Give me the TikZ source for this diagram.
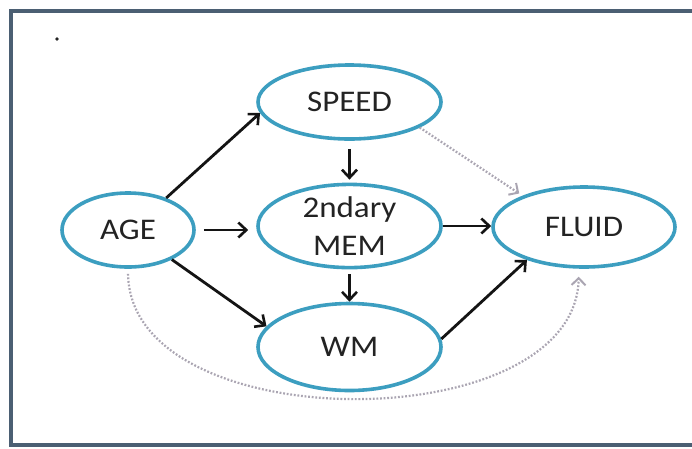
\documentclass[tikz,border=0pt]{standalone}
\usepackage{fontspec}
\setmainfont{Carlito}[FakeStretch=1.1]
\usetikzlibrary{shapes.geometric,arrows.meta}
\definecolor{ring}{RGB}{60,158,192}
\definecolor{ink}{RGB}{20,20,20}
\definecolor{txt}{RGB}{35,35,35}
\definecolor{dotc}{RGB}{170,165,178}
\definecolor{framec}{RGB}{75,95,115}
\begin{document}
\begin{tikzpicture}[x=1pt,y=-1pt,
  var/.style={ellipse, draw=ring, line width=3.6pt, fill=white, text=txt,
    font=\fontsize{30}{38}\selectfont, align=center, inner sep=0pt},
  arr/.style={-{Straight Barb[length=8pt,width=15pt,line width=2.6pt]}, line width=2.8pt, draw=ink},
  dotarr/.style={-{Straight Barb[length=7pt,width=14pt,line width=2pt]}, line width=2.2pt, draw=dotc,
    dash pattern=on 1.8pt off 1.8pt}]
\useasboundingbox (0,0) rectangle (692,448);
\fill[white] (0,0) rectangle (692,448);
\draw[framec, line width=3.2pt] (11,11) rectangle (700,445);
\node[circle, fill=txt, inner sep=1.3pt] (dot) at (57,39) {};
\node[var, minimum width=132pt, minimum height=74pt] (age) at (128,230) {AGE};
\node[var, minimum width=183pt, minimum height=74pt] (speed) at (349.5,102) {SPEED};
\node[var, minimum width=183pt, minimum height=76pt] (mem) at (349.5,226) {2ndary\\MEM};
\node[var, minimum width=182pt, minimum height=80pt] (fluid) at (584,227) {FLUID};
\node[var, minimum width=183pt, minimum height=87pt] (wm) at (349.5,347) {WM};
\draw[arr] (age.40) -- (speed.187);
\draw[arr, shorten <=8pt, shorten >=3pt] (speed.south) -- (mem.north);
\draw[arr, shorten <=8pt, shorten >=8pt] (age.east) -- (age.east -| mem.west);
\draw[arr] (mem.east) -- (mem.east -| fluid.west);
\draw[arr, shorten <=5pt] (mem.south) -- (wm.north);
\draw[arr] (age.326) -- (wm.166);
\draw[arr] (wm.5) -- (fluid.210);
\draw[dotarr, shorten >=4pt] (speed.340) -- (fluid.153);
\draw[dotarr, shorten <=5pt, shorten >=8pt] (age.south) .. controls (130,440) and (575,440) .. (fluid.263);
\end{tikzpicture}
\end{document}
